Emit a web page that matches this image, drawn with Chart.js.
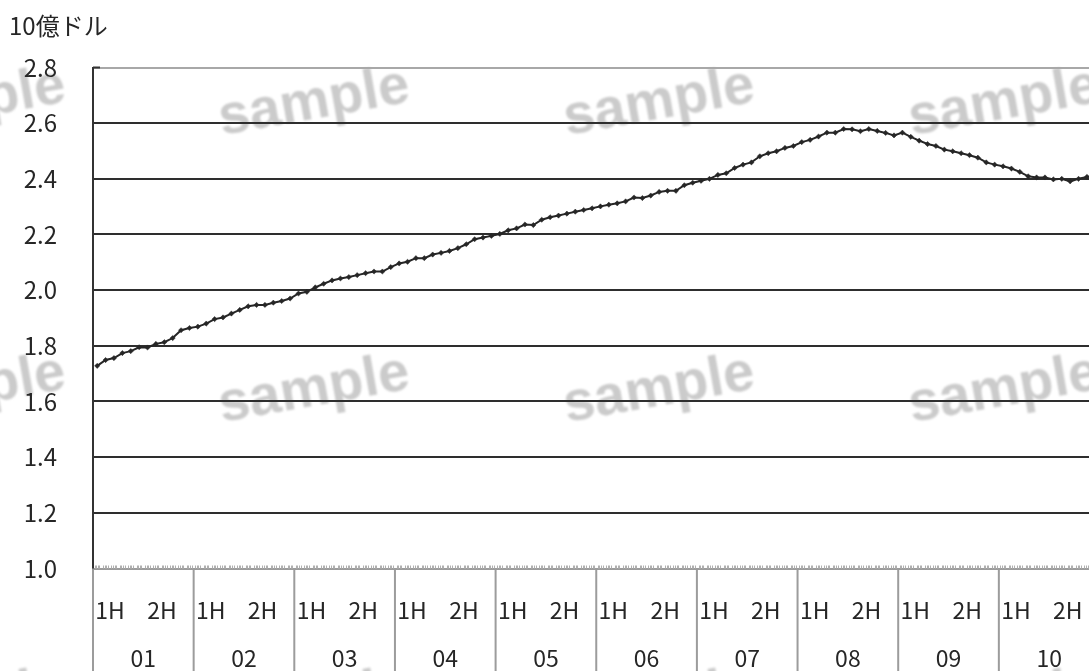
<!DOCTYPE html>
<html lang="ja">
<head>
<meta charset="utf-8">
<script src="https://cdn.jsdelivr.net/npm/chart.js@4/dist/chart.umd.min.js"></script>
<style>
  html, body { margin: 0; padding: 0; overflow: hidden; background: #fff; }
  canvas { display: block; }
</style>
</head>
<body>
<canvas id="c" width="1104" height="671"></canvas>
<script>
// Axis categories and labels
const years = ['01', '02', '03', '04', '05', '06', '07', '08', '09', '10'];
const halves = ['1H', '2H'];
const yTicks = [1.0, 1.2, 1.4, 1.6, 1.8, 2.0, 2.2, 2.4, 2.6, 2.8];
const unitLabel = '10億ドル';
const watermarkText = 'sample';

// Monthly values (billion dollars), one array per year
const v01 = [1.728, 1.749, 1.756, 1.774, 1.781, 1.795, 1.794, 1.807, 1.813, 1.828, 1.856, 1.864];
const v02 = [1.869, 1.880, 1.896, 1.902, 1.916, 1.929, 1.942, 1.947, 1.947, 1.955, 1.961, 1.970];
const v03 = [1.988, 1.994, 2.010, 2.023, 2.035, 2.042, 2.047, 2.054, 2.061, 2.067, 2.067, 2.083];
const v04 = [2.096, 2.102, 2.115, 2.115, 2.128, 2.134, 2.141, 2.151, 2.165, 2.183, 2.189, 2.195];
const v05 = [2.202, 2.215, 2.222, 2.236, 2.234, 2.253, 2.262, 2.268, 2.275, 2.282, 2.288, 2.294];
const v06 = [2.301, 2.307, 2.312, 2.319, 2.333, 2.331, 2.340, 2.353, 2.357, 2.357, 2.377, 2.386];
const v07 = [2.393, 2.400, 2.414, 2.420, 2.439, 2.451, 2.459, 2.481, 2.492, 2.499, 2.511, 2.518];
const v08 = [2.532, 2.540, 2.552, 2.566, 2.566, 2.579, 2.578, 2.571, 2.579, 2.572, 2.565, 2.556];
const v09 = [2.566, 2.551, 2.537, 2.525, 2.518, 2.505, 2.499, 2.492, 2.485, 2.476, 2.459, 2.451];
const v10 = [2.445, 2.437, 2.425, 2.409, 2.405, 2.405, 2.398, 2.400, 2.391, 2.400, 2.407, 2.412];

const yearly = [v01, v02, v03, v04, v05, v06, v07, v08, v09, v10];
const monthLabels = [];
years.forEach(y => { for (let m = 1; m <= 12; m++) monthLabels.push(y + '/' + m); });
const values = yearly.flat();

const FONT = '"Noto Sans CJK JP", "Noto Sans", sans-serif';
const INK = '#262626';
const AXIS_GRAY = '#9c9c9c';

// Faint "sample" stamps behind the plot
const watermarkPlugin = {
  id: 'watermark',
  beforeDraw(chart) {
    const ctx = chart.ctx;
    const centersX = [-30, 314, 659, 1004];
    const centersY = [103, 390, 703];
    ctx.save();
    ctx.font = 'bold 56px "Liberation Sans", sans-serif';
    ctx.fillStyle = '#cbcbcb';
    ctx.textAlign = 'center';
    ctx.textBaseline = 'middle';
    ctx.filter = 'blur(1.1px)';
    centersY.forEach(cy => centersX.forEach(cx => {
      ctx.save();
      ctx.translate(cx, cy);
      ctx.rotate(-10 * Math.PI / 180);
      ctx.fillText(watermarkText, 0, 0);
      ctx.restore();
    }));
    ctx.restore();
  }
};

// Unit title, half-year / year labels, separators and the ruler on the base line
const axisDecorPlugin = {
  id: 'axisDecor',
  afterDraw(chart) {
    const ctx = chart.ctx;
    const x = chart.scales.x;
    const area = chart.chartArea;
    const mw = x.getPixelForValue(1) - x.getPixelForValue(0);
    const bound = k => (k < years.length ? x.getPixelForValue(12 * k) - mw / 2
                                         : x.getPixelForValue(12 * years.length - 1) + mw / 2);
    ctx.save();

    // unit title
    ctx.font = '24px ' + FONT;
    ctx.fillStyle = INK;
    ctx.textAlign = 'left';
    ctx.textBaseline = 'middle';
    ctx.fillText(unitLabel, 9, 26);

    // short dark tick at the top of the value axis
    ctx.strokeStyle = '#333';
    ctx.lineWidth = 2;
    ctx.beginPath();
    ctx.moveTo(area.left, area.top);
    ctx.lineTo(area.left + 7, area.top);
    ctx.stroke();

    // ruler-like small ticks along the base line
    ctx.strokeStyle = '#b0b0b0';
    ctx.lineWidth = 1;
    ctx.beginPath();
    for (let i = 0; i < 12 * years.length; i++) {
      const s = x.getPixelForValue(i) - mw / 2;
      for (let t = 1; t <= 4; t++) {
        const px = Math.round(s + t * 1.6) + 0.5;
        ctx.moveTo(px, area.bottom - 3);
        ctx.lineTo(px, area.bottom);
      }
    }
    ctx.stroke();

    // year separators below the axis
    ctx.strokeStyle = AXIS_GRAY;
    ctx.lineWidth = 2;
    ctx.beginPath();
    for (let k = 0; k <= years.length; k++) {
      const bx = bound(k);
      ctx.moveTo(bx, area.bottom);
      ctx.lineTo(bx, chart.height);
    }
    ctx.stroke();

    // half-year and year labels
    ctx.fillStyle = INK;
    ctx.font = '23px ' + FONT;
    ctx.textAlign = 'center';
    years.forEach((y, k) => {
      const a = bound(k), b = bound(k + 1), w = b - a;
      ctx.fillText(halves[0], a + 0.17 * w, 610);
      ctx.fillText(halves[1], a + 0.685 * w, 610);
      ctx.fillText(y, (a + b) / 2, 658);
    });
    ctx.restore();
  }
};

new Chart(document.getElementById('c'), {
  type: 'line',
  data: {
    labels: monthLabels,
    datasets: [{
      data: values,
      borderColor: INK,
      borderWidth: 2,
      pointStyle: 'rectRot',
      pointRadius: 2.6,
      pointBackgroundColor: INK,
      pointBorderColor: INK,
      pointBorderWidth: 0.5,
      tension: 0,
      fill: false
    }]
  },
  options: {
    responsive: false,
    animation: false,
    events: [],
    layout: { padding: { top: 67.5, right: 1, bottom: 0, left: 0 } },
    plugins: { legend: { display: false }, tooltip: { enabled: false }, title: { display: false } },
    scales: {
      x: {
        type: 'category',
        offset: true,
        ticks: { display: false },
        grid: { display: false, drawTicks: false },
        border: { display: true, color: AXIS_GRAY, width: 2 },
        afterFit(scale) { scale.height = 102.5; }
      },
      y: {
        type: 'linear',
        min: 1.0,
        max: 2.8,
        afterBuildTicks(scale) { scale.ticks = yTicks.map(v => ({ value: v })); },
        ticks: {
          padding: 36,
          color: INK,
          font: { family: FONT, size: 24 },
          callback: v => Number(v).toFixed(1)
        },
        grid: {
          drawTicks: false,
          lineWidth: 2,
          color: c => {
            const v = c.tick ? c.tick.value : null;
            if (v !== null && Math.abs(v - 2.8) < 1e-6) return '#a8a8a8';
            if (v !== null && Math.abs(v - 1.0) < 1e-6) return 'rgba(0,0,0,0)';
            return '#2e2e2e';
          }
        },
        border: { display: true, color: '#333', width: 2 },
        afterFit(scale) { scale.width = 93; }
      }
    }
  },
  plugins: [watermarkPlugin, axisDecorPlugin]
});
</script>
</body>
</html>
